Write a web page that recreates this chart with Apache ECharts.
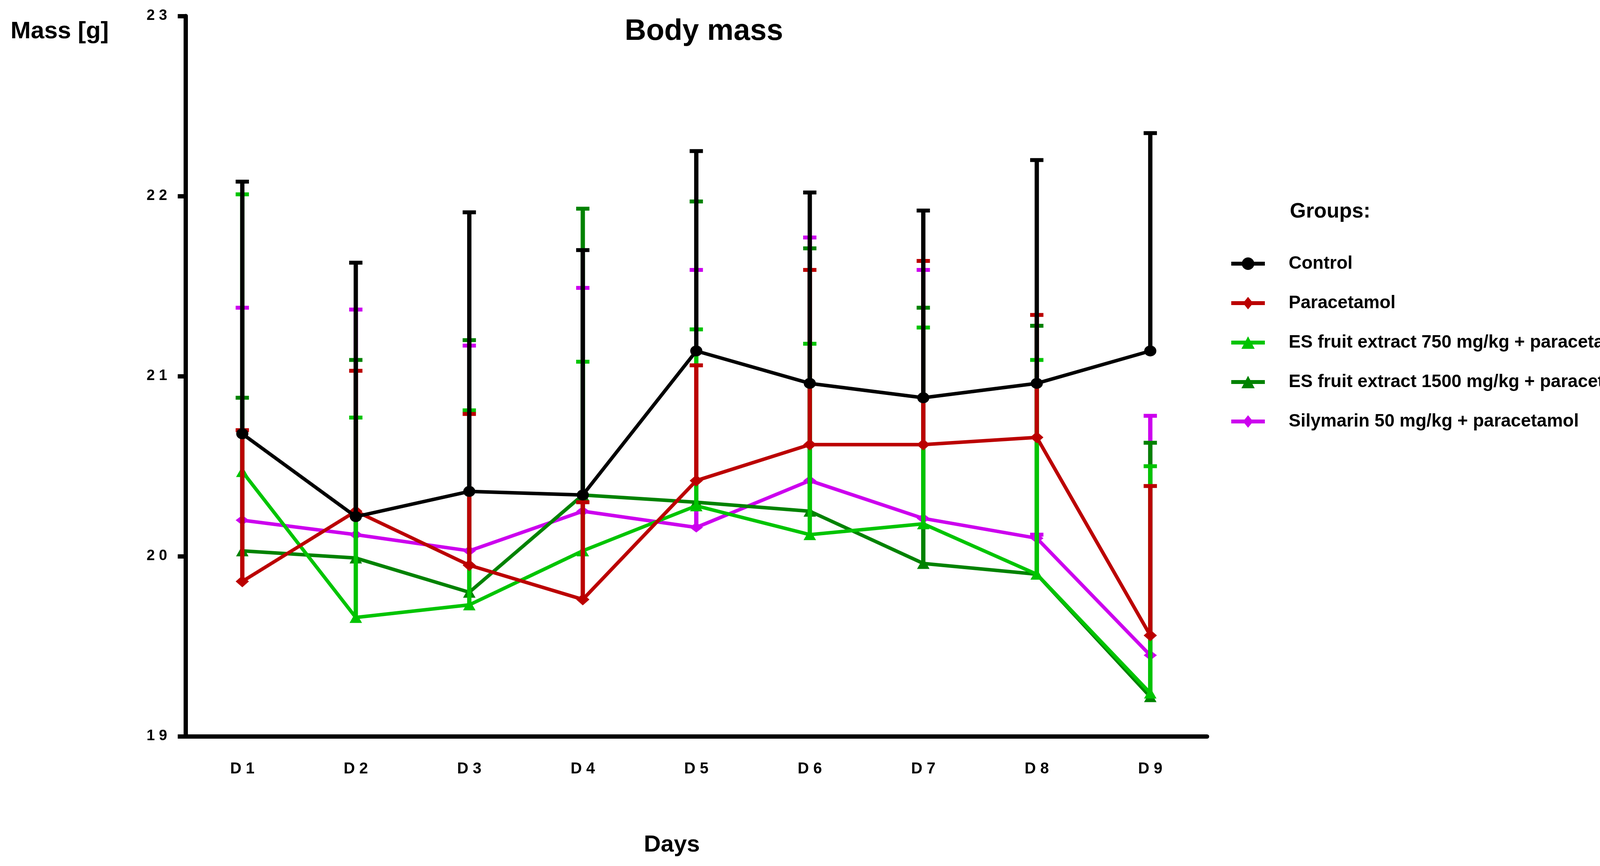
<!DOCTYPE html>
<html>
<head>
<meta charset="utf-8">
<script src="https://cdn.jsdelivr.net/npm/echarts/dist/echarts.min.js"></script>
<style>
html,body{margin:0;padding:0;background:#fff;}
#chart{width:4246px;height:2217px;}
</style>
</head>
<body>
<div id="chart"></div>
<script>
// ---- data ----
const days = ['D 1','D 2','D 3','D 4','D 5','D 6','D 7','D 8','D 9'];
const yTicks = [19, 20, 21, 22, 23];

const groupNames = [
  'Control',
  'Paracetamol',
  'ES fruit extract 750 mg/kg + paracetamol',
  'ES fruit extract 1500 mg/kg + paracetamol',
  'Silymarin 50 mg/kg + paracetamol'
];

const controlMean = [20.68, 20.22, 20.36, 20.34, 21.14, 20.96, 20.88, 20.96, 21.14];
const controlTop  = [22.08, 21.63, 21.91, 21.70, 22.25, 22.02, 21.92, 22.20, 22.35];

const paraMean = [19.86, 20.25, 19.95, 19.76, 20.42, 20.62, 20.62, 20.66, 19.56];
const paraTop  = [20.70, 21.03, 20.79, 20.30, 21.06, 21.59, 21.64, 21.34, 20.39];

const es750Mean = [20.47, 19.66, 19.73, 20.03, 20.28, 20.12, 20.18, 19.90, 19.24];
const es750Top  = [22.01, 20.77, 20.81, 21.08, 21.26, 21.18, 21.27, 21.09, 20.50];

const es1500Mean = [20.03, 19.99, 19.80, 20.34, 20.30, 20.25, 19.96, 19.90, 19.22];
const es1500Top  = [20.88, 21.09, 21.20, 21.93, 21.97, 21.71, 21.38, 21.28, 20.63];

const silyMean = [20.20, 20.12, 20.03, 20.25, 20.16, 20.42, 20.21, 20.10, 19.45];
const silyTop  = [21.38, 21.37, 21.17, 21.49, 21.59, 21.77, 21.59, 20.12, 20.78];

// ---- styling ----
const FONT = "'Liberation Sans', Arial, Helvetica, sans-serif";
const BAR = 'M0 11L86 11L86 21L0 21Z';
const ICONS = {
  circle:   'path://' + BAR + 'M27 16A16 16 0 1 1 59 16A16 16 0 1 1 27 16Z',
  diamond:  'path://' + BAR + 'M43 0L56 16L43 32L30 16Z',
  triangle: 'path://' + BAR + 'M43 0L60 32L26 32Z'
};
const groups = [
  {name: groupNames[0], mean: controlMean, top: controlTop, color: '#000000', symbol: 'circle',   size: [31, 28], z: 10},
  {name: groupNames[1], mean: paraMean,    top: paraTop,    color: '#BB0000', symbol: 'diamond',  size: [34, 30], z: 8},
  {name: groupNames[2], mean: es750Mean,   top: es750Top,   color: '#00C400', symbol: 'triangle', size: [32, 28], z: 6},
  {name: groupNames[3], mean: es1500Mean,  top: es1500Top,  color: '#008200', symbol: 'triangle', size: [32, 28], z: 4},
  {name: groupNames[4], mean: silyMean,    top: silyTop,    color: '#CC00EE', symbol: 'diamond',  size: [34, 26], z: 2}
];

function errRender(color) {
  return function (params, api) {
    const i = api.value(0), m = api.value(1), t = api.value(2);
    const p0 = api.coord([i, m]);
    const p1 = api.coord([i, t]);
    return {
      type: 'group',
      children: [
        {type: 'line', shape: {x1: p0[0], y1: p0[1], x2: p1[0], y2: p1[1]},
         style: {stroke: color, lineWidth: 11, lineCap: 'butt'}},
        {type: 'line', shape: {x1: p1[0] - 17, y1: p1[1], x2: p1[0] + 17, y2: p1[1]},
         style: {stroke: color, lineWidth: 10, lineCap: 'butt'}}
      ]
    };
  };
}

const series = [];
groups.slice().reverse().forEach(g => {
  series.push({
    name: g.name + ' SD',
    type: 'custom',
    z: g.z,
    renderItem: errRender(g.color),
    encode: {x: 0, y: [1, 2]},
    data: g.mean.map((m, i) => [i, m, g.top[i]]),
    silent: true
  });
  series.push({
    name: g.name,
    type: 'line',
    z: g.z + 1,
    data: g.mean,
    symbol: g.symbol,
    symbolSize: g.size,
    showAllSymbol: true,
    lineStyle: {color: g.color, width: 9},
    itemStyle: {color: g.color, borderWidth: 0},
    emphasis: {disabled: true}
  });
});

const chart = echarts.init(document.getElementById('chart'), null, {renderer: 'canvas'});
chart.setOption({
  animation: false,
  backgroundColor: '#ffffff',
  grid: {left: 475, right: 1156, top: 41, bottom: 332, containLabel: false},
  xAxis: {
    type: 'category',
    data: days,
    boundaryGap: true,
    axisLine: {lineStyle: {color: '#000', width: 11}},
    axisTick: {alignWithLabel: true, length: 22, lineStyle: {color: '#000', width: 11}},
    axisLabel: {color: '#000', fontFamily: FONT, fontWeight: 'bold', fontSize: 40, margin: 64},
    splitLine: {show: false}
  },
  yAxis: {
    type: 'value',
    min: yTicks[0],
    max: yTicks[yTicks.length - 1],
    interval: 1,
    axisLine: {show: true, lineStyle: {color: '#000', width: 11}},
    axisTick: {show: true, length: 20, lineStyle: {color: '#000', width: 11}},
    axisLabel: {
      color: '#000', fontFamily: FONT, fontWeight: 'bold', fontSize: 38, margin: 47,
      padding: [14, 0, 0, 0],
      formatter: v => String(v).split('').join(' ')
    },
    splitLine: {show: false}
  },
  legend: {
    orient: 'vertical',
    left: 3147,
    top: 647,
    data: groups.map(g => ({name: g.name, icon: ICONS[g.symbol]})),
    itemWidth: 86,
    itemHeight: 32,
    itemGap: 55,
    selectedMode: false,
    textStyle: {color: '#000', fontFamily: FONT, fontWeight: 'bold', fontSize: 46, padding: [0, 0, 0, 56]}
  },
  graphic: [
    {type: 'text', left: 27, top: 50, style: {text: 'Mass [g]', fill: '#000', font: 'bold 62px ' + FONT}},
    {type: 'text', x: 1802, y: 81, style: {text: 'Body mass', fill: '#000', font: 'bold 76px ' + FONT, textAlign: 'center', textVerticalAlign: 'middle'}},
    {type: 'text', x: 1720, y: 2163, style: {text: 'Days', fill: '#000', font: 'bold 60px ' + FONT, textAlign: 'center', textVerticalAlign: 'middle'}},
    {type: 'text', x: 3302, y: 542, style: {text: 'Groups:', fill: '#000', font: 'bold 53px ' + FONT, textAlign: 'left', textVerticalAlign: 'middle'}}
  ],
  series: series
});
</script>
</body>
</html>
